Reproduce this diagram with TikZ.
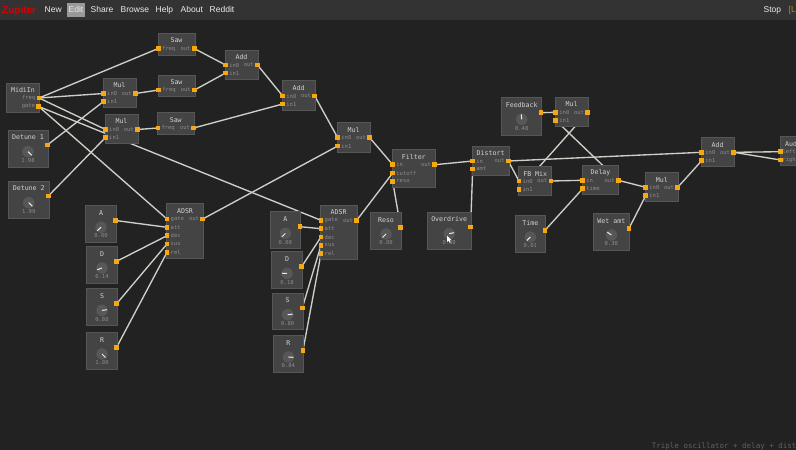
\documentclass[tikz,border=0pt]{standalone}
\usepackage{fontspec}
\setmainfont{Liberation Sans}
\setmonofont{DejaVu Sans Mono}
\definecolor{pagebg}{HTML}{222222}
\definecolor{menubg}{HTML}{333333}
\definecolor{unitbg}{HTML}{444444}
\definecolor{unitrim}{HTML}{565656}
\definecolor{portcol}{HTML}{F5A80F}
\definecolor{wirecol}{HTML}{CFCFC8}
\pgfdeclarelayer{backdrop}
\pgfdeclarelayer{wires}
\pgfsetlayers{backdrop,wires,main}
\tikzset{
  unitbox/.style={draw=unitrim, fill=unitbg, line width=1pt, inner sep=0pt, outer sep=0pt, anchor=north west},
  unittitle/.style={font=\ttfamily\fontsize{6.6}{7}\selectfont, text=black!18, inner sep=0pt},
  portlabel/.style={font=\ttfamily\fontsize{5.5}{6}\selectfont, text=black!45, inner sep=0pt},
  knobvalue/.style={font=\ttfamily\fontsize{5.5}{6}\selectfont, text=black!45, inner sep=0pt},
  port/.style={fill=portcol, draw=none, minimum size=4.6pt, inner sep=0pt, outer sep=0pt},
  knob/.style={circle, fill=black!66, draw=none, minimum size=11.5pt, inner sep=0pt},
  knobtick/.style={draw=black!8, line width=1pt},
  wire/.style={draw=wirecol, line width=1.35pt},
  menuitem/.style={font=\fontsize{8.5}{10}\selectfont, text=black!8, inner sep=0pt, anchor=base west},
}
\newcommand{\unitnode}[6]{%
  \node[unitbox, minimum width={(#4-#2)*1pt}, minimum height={(#5-#3)*1pt}] (#1) at (#2,#3) {};
  \node[unittitle] (#1Title) at ({(#2+#4)/2},#3+7.5) {#6};
}
\newcommand{\knobnode}[8]{%
  \unitnode{#1}{#2}{#3}{#4}{#5}{#6}
  \node[knob] (#1Knob) at ({(#2+#4)/2},#3+21.7) {};
  \draw[knobtick] (#1Knob.center) -- +(#8:5pt);
  \node[knobvalue] (#1Value) at ({(#2+#4)/2},#3+30.3) {#7};
  \node[port] (#1Out) at (#4-0.7,#3+15) {};
}
\begin{document}
\begin{tikzpicture}[x=1pt,y=-1pt]
\useasboundingbox (0,0) rectangle (796,450);
\begin{pgfonlayer}{backdrop}
\fill[pagebg] (0,0) rectangle (796,450);
\fill[menubg] (0,0) rectangle (796,20);
\fill[black!40] (67,3) rectangle (85,16.5);
\end{pgfonlayer}
%menu bar
\node[font=\bfseries\fontsize{10}{12}\selectfont, text=red!85!black, inner sep=0pt, anchor=base west] (zupiter) at (2,13) {Zupiter};
\foreach \n/\x/\t in {menuNew/44.5/New, menuEdit/68.5/Edit, menuShare/90.5/Share, menuBrowse/120.5/Browse, menuHelp/155.5/Help, menuAbout/180.5/About, menuReddit/209.5/Reddit, menuStop/763.5/Stop}
  \node[menuitem] (\n) at (\x,12.5) {\t};
\node[menuitem, text=portcol!80!black] (menuLogin) at (788.5,12.5) {[L};

%plain units
\unitnode{midiIn}{6.5}{83}{39.5}{112}{MidiIn}
\unitnode{sawA}{158}{33}{195}{55}{Saw}
\unitnode{sawB}{158}{75}{195}{96}{Saw}
\unitnode{sawC}{157.5}{112.7}{194}{134}{Saw}
\unitnode{mulA}{103}{78}{136}{107}{Mul}
\unitnode{mulB}{105}{114}{138}{143.7}{Mul}
\unitnode{addA}{225}{50}{258}{79}{Add}
\unitnode{addB}{282.3}{80.7}{315}{110}{Add}
\unitnode{mulC}{337.3}{122.7}{370}{152}{Mul}
\unitnode{adsrA}{166.7}{203.7}{203.3}{258.3}{ADSR}
\unitnode{adsrB}{320.3}{205}{357}{259.7}{ADSR}
\unitnode{filter}{392.3}{149.7}{435.3}{187}{Filter}
\unitnode{distort}{472.3}{146}{509}{175.3}{Distort}
\unitnode{mulD}{555.3}{97}{588}{126.3}{Mul}
\unitnode{fbMix}{518.7}{166.7}{551.7}{195.7}{FB Mix}
\unitnode{delay}{582.3}{165.3}{618.7}{194.7}{Delay}
\unitnode{mulE}{645.3}{172.3}{678.3}{201.7}{Mul}
\unitnode{addC}{701.3}{137.3}{734}{166.7}{Add}
\node[unitbox, minimum width=30pt, minimum height=29.4pt] (audio) at (780.3,136.3) {};
\node[unittitle, anchor=west] (audioTitle) at (785,144) {Aud};

%knob units
\knobnode{detuneA}{8}{130}{48}{167}{Detune 1}{1.98}{-45}
\knobnode{detuneB}{8.5}{181}{49}{218}{Detune 2}{1.99}{-45}
\knobnode{attA}{85.7}{205.5}{116.3}{242.3}{A}{0.00}{225}
\knobnode{decA}{86.7}{246.3}{117.3}{283.5}{D}{0.14}{200}
\knobnode{susA}{86.7}{288.7}{117.3}{325}{S}{0.80}{8}
\knobnode{relA}{86.7}{332.3}{117.3}{369.3}{R}{1.00}{-45}
\knobnode{attB}{270}{211.7}{300.7}{248.7}{A}{0.00}{225}
\knobnode{decB}{271.7}{251.7}{302.3}{288.7}{D}{0.18}{178}
\knobnode{susB}{272.3}{293}{303}{329.7}{S}{0.80}{6}
\knobnode{relB}{273}{335.3}{303.7}{372.3}{R}{0.84}{-4}
\knobnode{reso}{370.7}{212.3}{401.3}{249.7}{Reso}{0.00}{225}
\knobnode{overdrive}{427}{212}{471.3}{249}{Overdrive}{0.80}{12}
\knobnode{feedback}{501.7}{97.7}{541.7}{135}{Feedback}{0.48}{95}
\knobnode{delayTime}{515}{215.3}{545.7}{252.3}{Time}{0.01}{225}
\knobnode{wetAmt}{593}{213.3}{629.7}{250.7}{Wet amt}{0.30}{145}

%ports with label on the right
\foreach \p/\t/\x/\y in {sawAFreq/freq/158.3/48.5, sawBFreq/freq/158.7/90, sawCFreq/freq/157.8/128,
  mulAIn0/in0/103.5/93.5, mulAIn1/in1/103.5/101.5, mulBIn0/in0/105.5/129.5, mulBIn1/in1/105.5/137.5,
  addAIn0/in0/225.6/65, addAIn1/in1/225.6/73, addBIn0/in0/282.7/96, addBIn1/in1/282.7/104,
  mulCIn0/in0/337.7/137.7, mulCIn1/in1/337.7/146,
  adsrAGate/gate/167/219, adsrAAtt/att/167/227.3, adsrADec/dec/167/235.7, adsrASus/sus/167/244, adsrARel/rel/167/252.3,
  adsrBGate/gate/321/220.3, adsrBAtt/att/321/228.7, adsrBDec/dec/321/237, adsrBSus/sus/321/245.3, adsrBRel/rel/321/253.7,
  filterIn/in/392.7/164.7, filterCutoff/cutoff/392.7/173, filterReso/reso/392.7/181.3,
  distortIn/in/472.7/161, distortAmt/amt/472.7/169,
  mulDIn0/in0/555.7/112.3, mulDIn1/in1/555.7/120.3, fbMixIn0/in0/519/181, fbMixIn1/in1/519/189.5,
  delayIn/in/582.7/180.3, delayTimeIn/time/582.7/188.7, mulEIn0/in0/645.7/187.3, mulEIn1/in1/645.7/195.7,
  addCIn0/in0/701.7/152.3, addCIn1/in1/701.7/160.7}{
  \node[port] (\p) at (\x,\y) {};
  \node[portlabel, anchor=west] (\p Text) at (\x+3.5,\y) {\t};
}
%ports with label on the left
\foreach \p/\t/\x/\y in {midiFreq/freq/39/98, midiGate/gate/38.7/106.5,
  sawAOut/out/194.2/48.5, sawBOut/out/194.5/90, sawCOut/out/193.7/128,
  mulAOut/out/135.5/93.5, mulBOut/out/137.5/129.5, addAOut/out/257.5/65, addBOut/out/314.7/96, mulCOut/out/369.7/137.7,
  adsrAOut/out/202.7/219, adsrBOut/out/356.7/220.3, filterOut/out/434.7/164.7, distortOut/out/508.3/161,
  mulDOut/out/587.7/112.3, fbMixOut/out/551/181, delayOut/out/618.3/180.3, mulEOut/out/677.7/187.3, addCOut/out/733.7/152.3}{
  \node[port] (\p) at (\x,\y) {};
  \node[portlabel, anchor=east] (\p Text) at (\x-3.5,\y) {\t};
}
%audio ports sit at the page edge
\node[port] (audioLeft) at (780.7,151.7) {};
\node[port] (audioRight) at (780.7,160) {};
\node[portlabel, anchor=east] (audioLeftText) at (796,151.7) {left};
\node[portlabel, anchor=east] (audioRightText) at (796,160) {righ};

%wires
\begin{pgfonlayer}{wires}
\foreach \a/\b in {midiFreq/sawAFreq, midiFreq/mulAIn0, midiFreq/mulBIn0, midiGate/adsrAGate, midiGate/adsrBGate,
  detuneAOut/mulAIn1, detuneBOut/mulBIn1, mulAOut/sawBFreq, mulBOut/sawCFreq,
  sawAOut/addAIn0, sawBOut/addAIn1, addAOut/addBIn0, sawCOut/addBIn1, addBOut/mulCIn0, adsrAOut/mulCIn1, mulCOut/filterIn,
  attAOut/adsrAAtt, decAOut/adsrADec, susAOut/adsrASus, relAOut/adsrARel,
  attBOut/adsrBAtt, decBOut/adsrBDec, susBOut/adsrBSus, relBOut/adsrBRel,
  adsrBOut/filterCutoff, resoOut/filterReso, filterOut/distortIn, overdriveOut/distortAmt,
  distortOut/addCIn0, distortOut/fbMixIn0, feedbackOut/mulDIn0, mulDOut/fbMixIn1, delayOut/mulDIn1,
  fbMixOut/delayIn, delayTimeOut/delayTimeIn, delayOut/mulEIn0, wetAmtOut/mulEIn1, mulEOut/addCIn1,
  addCOut/audioLeft, addCOut/audioRight}
  \draw[wire] (\a.center) -- (\b.center);
\end{pgfonlayer}

%pointer over the overdrive knob
\fill[white] (447,235.5) -- (447,242) -- (448.6,240.6) -- (449.8,242.8) -- (450.6,242.3) -- (449.6,240.2) -- (451.4,240) -- cycle;

\node[font=\ttfamily\fontsize{7.5}{8}\selectfont, text=black!62, inner sep=0pt, anchor=west] (footer) at (651.7,446) {Triple oscillator + delay + dist};
\end{tikzpicture}
\end{document}
